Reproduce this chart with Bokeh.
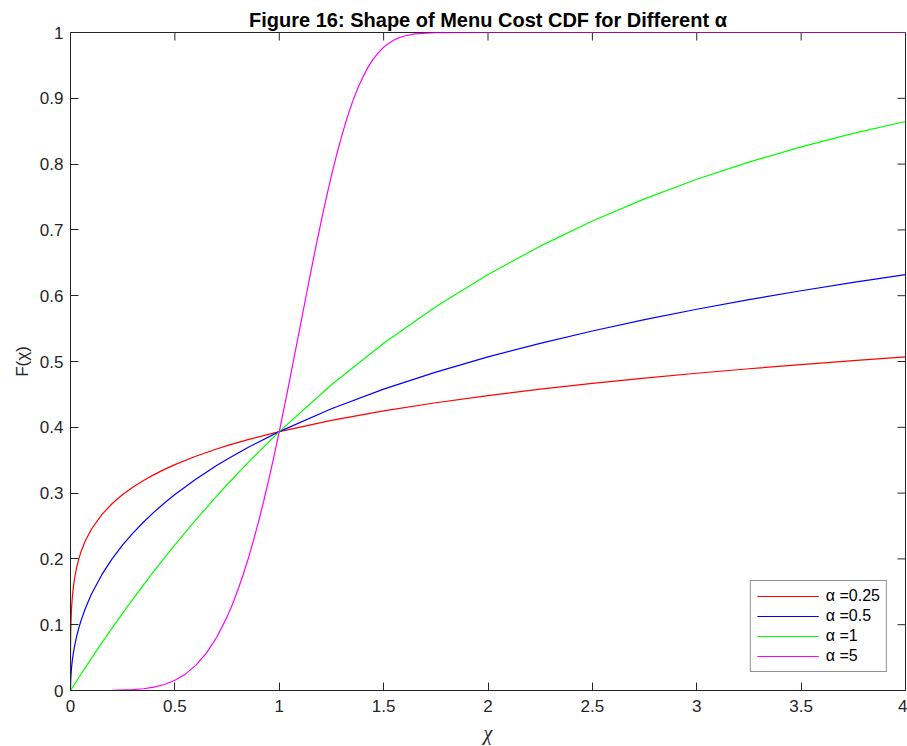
import math
from bokeh.plotting import figure
from bokeh.models import Range1d, LinearAxis, FixedTicker, Legend, LegendItem
from bokeh.embed import file_html
from bokeh.resources import INLINE

# ---- data ----
x_main = [0, 0.00001, 0.0001, 0.0005, 0.001, 0.002, 0.003, 0.005, 0.0075, 0.01,
          0.015, 0.02, 0.03, 0.04, 0.05, 0.07, 0.1, 0.15, 0.2, 0.25, 0.3, 0.35, 0.4,
          0.45, 0.5, 0.6, 0.7, 0.75, 0.85, 1, 1.25, 1.5, 1.75, 2, 2.25, 2.5, 2.75, 3,
          3.25, 3.5, 3.75, 4]
f_a025 = [0, 0.02773, 0.04877, 0.07204, 0.08507, 0.10034, 0.11043, 0.12450, 0.13683,
          0.14624, 0.16053, 0.17141, 0.18787, 0.20037, 0.21056, 0.22677, 0.24510,
          0.26741, 0.28421, 0.29781, 0.30929, 0.31927, 0.32810, 0.33603, 0.34325,
          0.35600, 0.36704, 0.37205, 0.38128, 0.39347, 0.41062, 0.42497, 0.43735,
          0.44822, 0.45794, 0.46673, 0.47475, 0.48213, 0.48897, 0.49535, 0.50132, 0.50693]
f_a05 = [0, 0.00158, 0.00499, 0.01112, 0.01569, 0.02211, 0.02702, 0.03474, 0.04238,
         0.04877, 0.05940, 0.06827, 0.08296, 0.09516, 0.10578, 0.12391, 0.14624,
         0.17605, 0.20037, 0.22120, 0.23954, 0.25607, 0.27110, 0.28496, 0.29781,
         0.32111, 0.34186, 0.35144, 0.36933, 0.39347, 0.42824, 0.45794, 0.48389,
         0.50693, 0.52763, 0.54641, 0.56358, 0.57937, 0.59399, 0.60756, 0.62024, 0.63212]
f_a1 = [0, 0.000005, 0.00005, 0.00025, 0.0005, 0.001, 0.0015, 0.0025, 0.00374, 0.005,
        0.00747, 0.00995, 0.01489, 0.01980, 0.0247, 0.03440, 0.0488, 0.07226, 0.0952,
        0.11750, 0.1393, 0.16054, 0.1813, 0.20148, 0.2212, 0.25918, 0.29531, 0.3127,
        0.34623, 0.3935, 0.4647, 0.5276, 0.5831, 0.6321, 0.6753, 0.7135, 0.7472,
        0.7769, 0.8031, 0.8262, 0.8466, 0.8647]
x_a5 = [0, 0.1, 0.2, 0.3, 0.35, 0.4, 0.45, 0.5, 0.55, 0.6, 0.65, 0.7, 0.75, 0.775, 0.8,
        0.825, 0.85, 0.875, 0.9, 0.925, 0.95, 0.975, 1, 1.025, 1.05, 1.075, 1.1, 1.125,
        1.15, 1.175, 1.2, 1.225, 1.25, 1.275, 1.3, 1.325, 1.35, 1.375, 1.4, 1.425, 1.45,
        1.475, 1.5, 1.525, 1.55, 1.575, 1.6, 1.65, 1.7, 1.75, 1.8, 2, 2.5, 3, 4]
f_a5 = [0, 0.000005, 0.00016, 0.001214, 0.002623, 0.005107, 0.009184, 0.015504,
        0.024850, 0.03813, 0.056364, 0.080601, 0.111883, 0.130460, 0.151122, 0.173942,
        0.198967, 0.226210, 0.255651, 0.287229, 0.320834, 0.356317, 0.393469, 0.432040,
        0.471726, 0.512183, 0.553031, 0.593843, 0.634202, 0.673671, 0.711818, 0.748238,
        0.782570, 0.814499, 0.843766, 0.870227, 0.893761, 0.914346, 0.932060, 0.947026,
        0.959440, 0.969525, 0.977563, 0.983820, 0.988590, 0.992139, 0.994714, 0.997790,
        0.999174, 0.999727, 0.999921, 1.0, 1.0, 1.0, 1.0]

series_labels = ["α =0.25", "α =0.5", "α =1", "α =5"]
series_colors = ["#FF0000", "#0000FF", "#00FF00", "#FF00FF"]

x_ticks = [0, 0.5, 1, 1.5, 2, 2.5, 3, 3.5, 4]
x_tick_labels = ["0", "0.5", "1", "1.5", "2", "2.5", "3", "3.5", "4"]
y_ticks = [0, 0.1, 0.2, 0.3, 0.4, 0.5, 0.6, 0.7, 0.8, 0.9, 1]
y_tick_labels = ["0", "0.1", "0.2", "0.3", "0.4", "0.5", "0.6", "0.7", "0.8", "0.9", "1"]

title_text = "Figure 16: Shape of Menu Cost CDF for Different α"
x_label = "χ"
y_label = "F(χ)"

# ---- figure ----
AX = "#262626"
FONT = "Liberation Sans"
p = figure(width=907, height=746, output_backend="svg", toolbar_location=None,
           x_range=Range1d(0, 4), y_range=Range1d(0, 1),
           min_border_left=70, min_border_right=2, min_border_top=32, min_border_bottom=56,
           x_axis_type=None, y_axis_type=None, title=title_text)
p.title.align = "center"
p.title.text_font = FONT
p.title.text_font_style = "bold"
p.title.text_font_size = "20px"
p.title.text_color = "black"
p.title.standoff = 4
p.xgrid.visible = False
p.ygrid.visible = False
p.outline_line_color = AX
p.outline_line_alpha = 1.0
p.background_fill_color = "white"
p.border_fill_color = "white"


def make_axis(ticks, labels):
    ax = LinearAxis(ticker=FixedTicker(ticks=ticks))
    ax.major_label_overrides = {t: l for t, l in zip(ticks, labels)}
    ax.major_tick_in = 8
    ax.major_tick_out = 0
    ax.minor_tick_line_color = None
    ax.major_tick_line_color = AX
    ax.axis_line_color = AX
    ax.major_label_text_color = AX
    ax.major_label_text_font = FONT
    ax.major_label_text_font_size = "17px"
    return ax


xb = make_axis(x_ticks, x_tick_labels)
xb.major_label_standoff = 9
xb.axis_label = x_label
xb.axis_label_text_font = "Liberation Serif"
xb.axis_label_text_font_style = "italic"
xb.axis_label_text_font_size = "20px"
xb.axis_label_text_color = AX
xb.axis_label_standoff = 7
p.add_layout(xb, "below")

yl = make_axis(y_ticks, y_tick_labels)
yl.major_label_standoff = 7
yl.axis_label = y_label
yl.axis_label_text_font = FONT
yl.axis_label_text_font_style = "normal"
yl.axis_label_text_font_size = "17px"
yl.axis_label_text_color = AX
yl.axis_label_standoff = 5
p.add_layout(yl, "left")

# inward ticks on the top and right edges of the box
p.ray(x=x_ticks, y=[1] * len(x_ticks), length=8, length_units="screen",
      angle=-math.pi / 2, line_color=AX, line_width=1)
p.ray(x=[4] * len(y_ticks), y=y_ticks, length=8, length_units="screen",
      angle=math.pi, line_color=AX, line_width=1)

# ---- lines ----
xs_list = [x_main, x_main, x_main, x_a5]
ys_list = [f_a025, f_a05, f_a1, f_a5]
items = []
for xs, ys, lab, col in zip(xs_list, ys_list, series_labels, series_colors):
    r = p.line(xs, ys, line_color=col, line_width=1.2)
    items.append(LegendItem(label=lab, renderers=[r]))

legend = Legend(items=items, location="bottom_right")
legend.margin = 18
legend.padding = 6
legend.spacing = 2
legend.glyph_width = 62
legend.glyph_height = 18
legend.label_height = 18
legend.label_standoff = 7
legend.label_text_font = FONT
legend.label_text_font_size = "16px"
legend.label_text_color = "black"
legend.border_line_color = AX
legend.border_line_width = 1
legend.background_fill_alpha = 1.0
p.add_layout(legend, "center")

open("out.html", "w").write(file_html(p, INLINE))
